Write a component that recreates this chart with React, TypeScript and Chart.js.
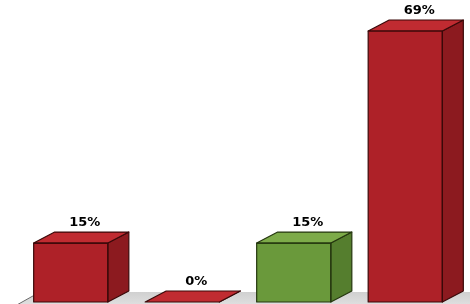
import React, { useEffect, useRef } from "react";
import { Chart, registerables } from "chart.js";

Chart.register(...registerables);

const categories = ["A", "B", "C", "D"];
const values = [15, 0, 15, 69];
const valueLabels = ["15%", "0%", "15%", "69%"];
const barTones = ["red", "red", "green", "red"];

const PALETTE: Record<string, { front: string; top: string; side: string; edge: string }> = {
  red: { front: "#ae2128", top: "#c02b31", side: "#8c1a1f", edge: "#3a0909" },
  green: { front: "#6a993b", top: "#7dab49", side: "#557e2e", edge: "#25370f" },
};

const DX = 21;
const DY = -11;

const cubePlugin = {
  id: "cube3d",
  beforeDatasetsDraw(chart: any) {
    const ctx = chart.ctx;
    const area = chart.chartArea;
    const base = chart.scales.y.getPixelForValue(0);
    ctx.save();
    ctx.beginPath();
    ctx.moveTo(area.left + 4, base + 2);
    ctx.lineTo(area.left + 4 + DX, base + 1 + DY);
    ctx.lineTo(chart.width + 40, base + 1 + DY);
    ctx.lineTo(chart.width + 40, chart.height + 10);
    ctx.lineTo(area.left + 4 - 10, chart.height + 10);
    ctx.closePath();
    const g = ctx.createLinearGradient(0, base + DY, 0, chart.height);
    g.addColorStop(0, "#cfcfcf");
    g.addColorStop(1, "#dedede");
    ctx.fillStyle = g;
    ctx.fill();
    ctx.strokeStyle = "#6a6a6a";
    ctx.lineWidth = 1;
    ctx.beginPath();
    ctx.moveTo(area.left + 4 + DX, base + 1 + DY);
    ctx.lineTo(area.left + 4 - 4, chart.height + 2);
    ctx.stroke();
    ctx.restore();
  },
  afterDatasetsDraw(chart: any) {
    const ctx = chart.ctx;
    const meta = chart.getDatasetMeta(0);
    ctx.save();
    meta.data.forEach((bar: any, i: number) => {
      const p = bar.getProps(["x", "y", "base", "width"], true);
      const l = p.x - p.width / 2;
      const r = p.x + p.width / 2;
      const t = p.y;
      const b = p.base;
      const c = PALETTE[barTones[i]];
      ctx.lineWidth = 1.2;
      ctx.strokeStyle = c.edge;
      ctx.lineJoin = "round";
      // side face
      ctx.beginPath();
      ctx.moveTo(r, t);
      ctx.lineTo(r + DX, t + DY);
      ctx.lineTo(r + DX, b + DY);
      ctx.lineTo(r, b);
      ctx.closePath();
      ctx.fillStyle = c.side;
      ctx.fill();
      ctx.stroke();
      // top face
      ctx.beginPath();
      ctx.moveTo(l, t);
      ctx.lineTo(l + DX, t + DY);
      ctx.lineTo(r + DX, t + DY);
      ctx.lineTo(r, t);
      ctx.closePath();
      ctx.fillStyle = c.top;
      ctx.fill();
      ctx.stroke();
      // front edges
      if (b - t > 0.5) {
        ctx.strokeRect(l, t, r - l, b - t);
      }
      // label
      ctx.fillStyle = "#000000";
      ctx.font = "bold 13px 'DejaVu Sans'";
      ctx.textAlign = "center";
      ctx.textBaseline = "middle";
      ctx.fillText(valueLabels[i], p.x + 14, t + DY - 9);
    });
    ctx.restore();
  },
};

export default function App() {
  const ref = useRef<HTMLCanvasElement | null>(null);
  useEffect(() => {
    if (!ref.current) return;
    const chart = new Chart(ref.current, {
      type: "bar",
      data: {
        labels: categories,
        datasets: [
          {
            data: values,
            backgroundColor: barTones.map((t) => PALETTE[t].front),
            borderWidth: 0,
            barPercentage: 0.665,
            categoryPercentage: 1,
          },
        ],
      },
      options: {
        responsive: false,
        animation: false,
        devicePixelRatio: 1,
        layout: { padding: { left: 15, right: 9, top: 0, bottom: 2 } },
        plugins: { legend: { display: false }, tooltip: { enabled: false } },
        scales: {
          x: { display: false },
          y: { display: false, min: 0, max: 76.9 },
        },
      },
      plugins: [cubePlugin],
    });
    return () => chart.destroy();
  }, []);
  return (
    <div style={{ position: "fixed", left: 0, top: 0, width: 470, height: 304, background: "#ffffff" }}>
      <canvas ref={ref} width={470} height={304} />
    </div>
  );
}
